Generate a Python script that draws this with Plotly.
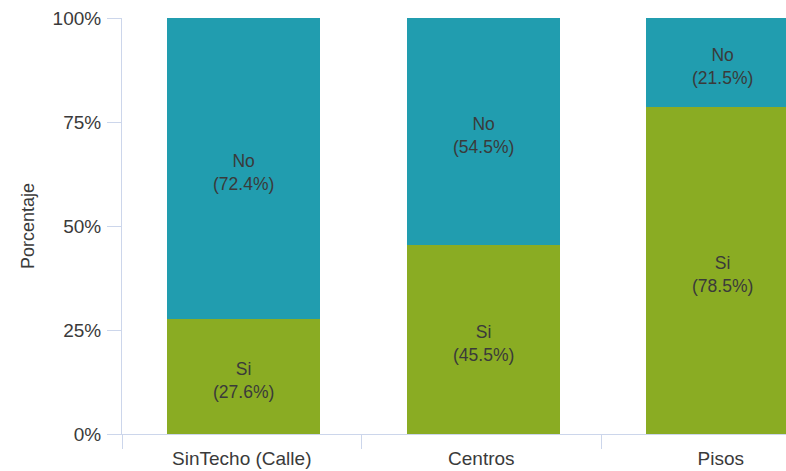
import plotly.graph_objects as go

categories = ["SinTecho (Calle)", "Centros", "Pisos"]
si_values = [27.6, 45.5, 78.5]
no_values = [72.4, 54.5, 21.5]
y_ticks = [0, 25, 50, 75, 100]

FONT = "Liberation Sans, Arial, sans-serif"
TXT = "#3a3a3a"
BAR_W = 0.64
BAR_OFF = -0.312

fig = go.Figure()
fig.add_trace(go.Bar(
    x=categories, y=si_values, name="Si",
    width=BAR_W, offset=BAR_OFF,
    marker=dict(color="#8aac23", line=dict(width=0)),
    hoverinfo="skip",
))
fig.add_trace(go.Bar(
    x=categories, y=no_values, name="No",
    width=BAR_W, offset=BAR_OFF,
    marker=dict(color="#219daf", line=dict(width=0)),
    hoverinfo="skip",
))

# Labels placed at segment centres (computed from the data), nudged slightly lower
annotations = []
for i, cat in enumerate(categories):
    xc = i + BAR_OFF + BAR_W / 2
    annotations.append(dict(
        x=xc, y=si_values[i] / 2, xref="x", yref="y",
        text=f"Si<br>({si_values[i]}%)", showarrow=False, yshift=-4,
        font=dict(family=FONT, size=17.5, color=TXT),
    ))
    annotations.append(dict(
        x=xc, y=si_values[i] + no_values[i] / 2, xref="x", yref="y",
        text=f"No<br>({no_values[i]}%)", showarrow=False, yshift=-4,
        font=dict(family=FONT, size=17.5, color=TXT),
    ))

fig.update_layout(
    barmode="stack",
    width=786, height=471,
    margin=dict(l=122, r=0, t=18, b=37, autoexpand=False),
    paper_bgcolor="white", plot_bgcolor="white",
    showlegend=False,
    font=dict(family=FONT, color=TXT),
    annotations=annotations,
    xaxis=dict(
        range=[-0.5, 2.272],
        automargin=False,
        showgrid=False, zeroline=False,
        showline=True, linecolor="#ccd6eb", linewidth=1,
        ticks="outside", tickson="boundaries", ticklen=14,
        tickcolor="#ccd6eb", tickwidth=1,
        ticklabelstandoff=7,
        tickfont=dict(family=FONT, size=19, color=TXT),
    ),
    yaxis=dict(
        range=[0, 100],
        automargin=False,
        tickvals=y_ticks, ticktext=[f"{v}%" for v in y_ticks],
        showgrid=False, zeroline=False,
        showline=True, linecolor="#ccd6eb", linewidth=1,
        ticks="outside", ticklen=14, tickcolor="#ccd6eb", tickwidth=1,
        ticklabelstandoff=2,
        tickfont=dict(family=FONT, size=19, color=TXT),
        title=dict(text="Porcentaje", font=dict(family=FONT, size=18, color=TXT), standoff=13),
    ),
)

fig.write_html(
    "out.html",
    config={"displayModeBar": False},
    post_script="document.body.style.margin='0';document.body.style.overflow='hidden';",
)
